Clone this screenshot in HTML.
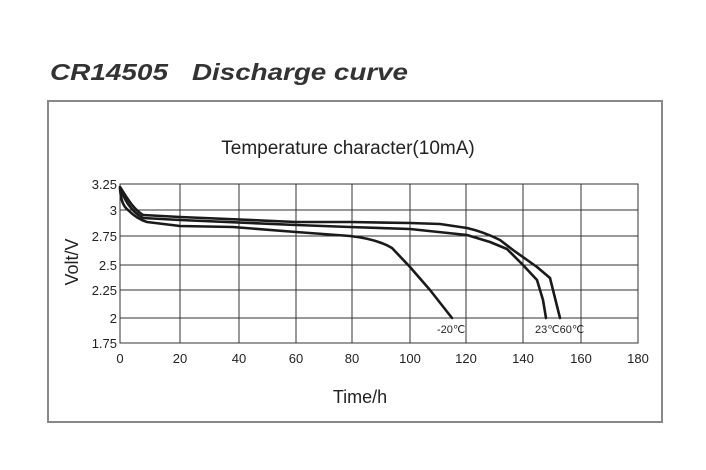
<!DOCTYPE html>
<html><head><meta charset="utf-8"><style>
html,body{margin:0;padding:0;background:#fff;}
svg{display:block;font-family:"Liberation Sans",Arial,sans-serif;}
</style></head><body>
<svg width="706" height="470" viewBox="0 0 706 470">
<text x="50" y="80" font-size="23" font-weight="bold" font-style="italic" fill="#333" textLength="118" lengthAdjust="spacingAndGlyphs">CR14505</text>
<text x="192" y="80" font-size="23" font-weight="bold" font-style="italic" fill="#333" textLength="216" lengthAdjust="spacingAndGlyphs">Discharge curve</text>
<rect x="48" y="101" width="614" height="321" fill="none" stroke="#888" stroke-width="2"/>
<text x="348" y="154" font-size="19" text-anchor="middle" fill="#222">Temperature character(10mA)</text>
<g stroke="#333" stroke-width="1" fill="none">
<rect x="120" y="184" width="518" height="159"/>
<line x1="120" y1="210" x2="638" y2="210"/>
<line x1="120" y1="236" x2="638" y2="236"/>
<line x1="120" y1="265" x2="638" y2="265"/>
<line x1="120" y1="290" x2="638" y2="290"/>
<line x1="120" y1="318" x2="638" y2="318"/>
<line x1="180" y1="184" x2="180" y2="343"/>
<line x1="239" y1="184" x2="239" y2="343"/>
<line x1="296" y1="184" x2="296" y2="343"/>
<line x1="352" y1="184" x2="352" y2="343"/>
<line x1="410" y1="184" x2="410" y2="343"/>
<line x1="466" y1="184" x2="466" y2="343"/>
<line x1="523" y1="184" x2="523" y2="343"/>
<line x1="581" y1="184" x2="581" y2="343"/>
</g>
<g font-size="13" fill="#222" text-anchor="end">
<text x="117" y="189">3.25</text><text x="117" y="215">3</text><text x="117" y="241">2.75</text>
<text x="117" y="270">2.5</text><text x="117" y="295">2.25</text><text x="117" y="323">2</text><text x="117" y="348">1.75</text>
</g>
<g font-size="13" fill="#222" text-anchor="middle">
<text x="120" y="363">0</text><text x="180" y="363">20</text><text x="239" y="363">40</text><text x="296" y="363">60</text>
<text x="352" y="363">80</text><text x="410" y="363">100</text><text x="466" y="363">120</text><text x="523" y="363">140</text>
<text x="581" y="363">160</text><text x="638" y="363">180</text>
</g>
<text x="360" y="403" font-size="18" text-anchor="middle" fill="#222">Time/h</text>
<text transform="translate(78,262) rotate(-90)" font-size="18" text-anchor="middle" fill="#222">Volt/V</text>
<g stroke="#1a1a1a" stroke-width="2.6" fill="none" stroke-linejoin="round" stroke-linecap="round">
<path d="M120,187 C126,196 132,208 143,215 L180,217 L296,222 L350,222 L410,223 L440,224 L467,228 C480,231 490,235 500,240 L513,250 L537,267 L550,278 L560,318"/>
<path d="M120,188 C124,198 130,211 143,218 L180,220 L296,225 L350,227 L410,229 L467,235 L490,242 L507,249 L523,265 L537,280 L543,300 L546,318"/>
<path d="M120,189 C121,200 123,206 128,210 C134,216 140,220 147,222 L180,226 L233,227 L296,232 L350,236 C368,238 382,242 392,248 L410,267 L430,290 L452,318"/>
</g>
<text x="437" y="333" font-size="11" fill="#222">-20℃</text>
<text x="535" y="333" font-size="11" fill="#222">23℃60℃</text>
</svg>
</body></html>
